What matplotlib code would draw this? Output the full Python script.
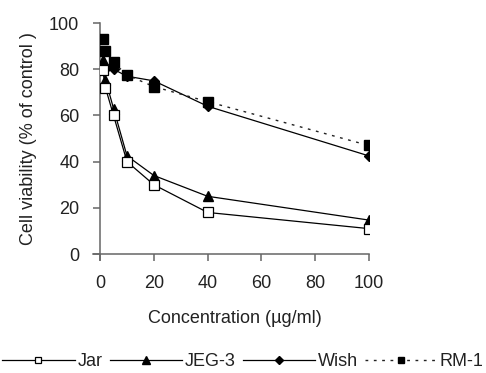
import matplotlib
matplotlib.use("Agg")
import matplotlib.pyplot as plt

conc = [1, 2, 5, 10, 20, 40, 100]
jar = [79.5, 72, 60, 40, 30, 18, 11]
jeg3 = [84, 75.5, 63, 42.5, 34, 25, 14.7]
wish = [82, 80, 80, 77, 75, 64, 42.5]
rm1 = [93, 88, 83, 77.5, 72.5, 66, 47]

xticks = [0, 20, 40, 60, 80, 100]
yticks = [0, 20, 40, 60, 80, 100]

plt.rcParams['font.family'] = ['Liberation Sans', 'DejaVu Sans']
fig = plt.figure(figsize=(4.86, 3.73), dpi=100)
ax = fig.add_axes([0.206, 0.319, 0.553, 0.619])

lc = 'black'
ax.plot(conc, wish, '-', color=lc, lw=0.9, marker='D', ms=5, mfc='black', mec='black', label='Wish', zorder=3)
ax.plot(conc, rm1, linestyle=(0, (2, 4)), color='#222222', lw=1.0, marker='s', ms=6.5, mfc='black', mec='black', label='RM-1', zorder=4)
ax.plot(conc, jeg3, '-', color=lc, lw=0.9, marker='^', ms=7, mfc='black', mec='black', label='JEG-3', zorder=3)
ax.plot(conc, jar, '-', color=lc, lw=0.9, marker='s', ms=6.5, mfc='white', mec='black', mew=0.9, label='Jar', zorder=5)

ax.set_xlim(0, 100)
ax.set_ylim(0, 100)
ax.set_xticks(xticks)
ax.set_yticks(yticks)
for s in ['top', 'right']:
    ax.spines[s].set_visible(False)
for s in ['left', 'bottom']:
    ax.spines[s].set_color('#666666')
    ax.spines[s].set_linewidth(1.1)
ax.spines['bottom'].set_bounds(-2.5, 100)
ax.spines['left'].set_bounds(-2.5, 100)
ax.tick_params(direction='out', length=5, width=1.1, color='#666666', labelsize=13, labelcolor='#222222', pad=10)
ax.set_xlabel('Concentration (µg/ml)', fontsize=13, color='#222222', labelpad=13)
ax.set_ylabel('Cell viability (% of control )', fontsize=13, color='#222222', labelpad=9)

h, l = ax.get_legend_handles_labels()
order = [3, 2, 0, 1]
fig.legend([h[i] for i in order], [l[i] for i in order], loc='center', bbox_to_anchor=(0.5, 0.03),
           ncol=4, frameon=False, fontsize=13, handlelength=4.0, handletextpad=0.15,
           columnspacing=0.4, markerscale=0.75, labelcolor='#222222', borderpad=0, borderaxespad=0)

fig.savefig('out.png', dpi=100)
